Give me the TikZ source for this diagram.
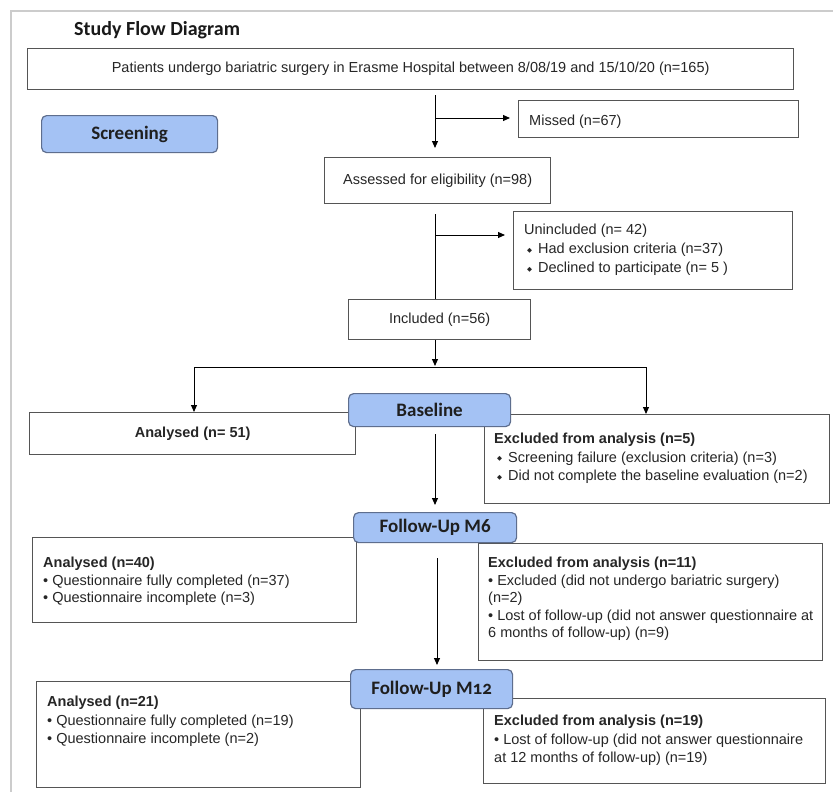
\documentclass[tikz,border=0pt]{standalone}
\usepackage{fontspec}
\setmainfont{Liberation Sans}
\newfontfamily\carl{Carlito}
\newfontfamily\carlold[Numbers=OldStyle]{Carlito}
\newfontfamily\dejavu{DejaVu Sans}
\usetikzlibrary{arrows.meta}
\definecolor{boxgray}{HTML}{555555}
\definecolor{stagefill}{HTML}{A4C2F4}
\definecolor{stageborder}{HTML}{5E6E8E}
\definecolor{framegray}{HTML}{CCCCCC}
\newcommand\dmd{\hspace{3pt}\makebox[11pt][l]{\raisebox{1.5pt}{\dejavu\fontsize{6.5}{6.5}\selectfont ◆}}}
\tikzset{
  box/.style={draw=boxgray, line width=1.3pt, fill=white, inner sep=0pt, anchor=north west,
    font=\fontsize{14.5}{18}\selectfont, text=black!85},
  stage/.style={draw=stageborder, fill=stagefill, rounded corners=5pt, line width=1.2pt,
    inner sep=0pt, anchor=north west, text=black!88,
    font=\carl\bfseries\fontsize{19}{21}\selectfont},
  txt/.style={align=left, anchor=base west, inner sep=0pt, text=black!85},
  arr/.style={-{Triangle[length=7pt,width=6pt]}, line width=1pt},
  ln/.style={line width=1pt},
}
\begin{document}
\begin{tikzpicture}[x=1pt,y=-1pt]
\useasboundingbox (0,0) rectangle (833,792);
\fill[white] (0,0) rectangle (833,792);
\draw[framegray, line width=2pt] (11,792) -- (11,11) -- (833,11);

\node[txt, font=\carl\bfseries\fontsize{20}{22}\selectfont, text=black!90] (title) at (74,36) {Study Flow Diagram};

% white boxes
\node[box, minimum width=766pt, minimum height=41pt] (top) at (27,48)
  {Patients undergo bariatric surgery in Erasme Hospital between 8/08/19 and 15/10/20 (n=165)};
\node[box, minimum width=280pt, minimum height=37pt] (missed) at (518,100) {};
\node[box, minimum width=226pt, minimum height=46pt] (assess) at (324,157) {Assessed for eligibility (n=98)};
\node[box, minimum width=279pt, minimum height=78pt] (unincl) at (513,211) {};
\node[box, minimum width=182pt, minimum height=40pt] (incl) at (348,299) {Included (n=56)};
\node[box, minimum width=326pt, minimum height=42pt, font=\bfseries\fontsize{14.5}{18}\selectfont] (an51) at (29,412) {Analysed (n= 51)};
\node[box, minimum width=345pt, minimum height=89pt] (ex5) at (484,414) {};
\node[box, minimum width=324pt, minimum height=85pt] (an40) at (32,537) {};
\node[box, minimum width=344pt, minimum height=117pt] (ex11) at (478,543) {};
\node[box, minimum width=324pt, minimum height=106pt] (an21) at (36,681) {};
\node[box, minimum width=342pt, minimum height=85pt] (ex19) at (483,698) {};

% texts in boxes (anchor = baseline of last line)
\node[txt, font=\fontsize{14.5}{19}\selectfont] (tmissed) at (529,125) {Missed (n=67)};
\node[txt, font=\fontsize{14.5}{19}\selectfont] (tunincl) at (524,272.5)
  {Unincluded (n= 42)\\\dmd Had exclusion criteria (n=37)\\\dmd Declined to participate (n= 5 )};
\node[txt, font=\fontsize{14.5}{18.5}\selectfont] (tex5) at (494,480.5)
  {\textbf{Excluded from analysis (n=5)}\\\dmd Screening failure (exclusion criteria) (n=3)\\\dmd Did not complete the baseline evaluation (n=2)};
\node[txt, font=\fontsize{14.5}{17.5}\selectfont] (tan40) at (43,602.5)
  {\textbf{Analysed (n=40)}\\• Questionnaire fully completed (n=37)\\• Questionnaire incomplete (n=3)};
\node[txt, font=\fontsize{14.5}{17.5}\selectfont] (tex11) at (488,637.5)
  {\textbf{Excluded from analysis (n=11)}\\• Excluded (did not undergo bariatric surgery)\\(n=2)\\• Lost of follow-up (did not answer questionnaire at\\6 months of follow-up) (n=9)};
\node[txt, font=\fontsize{14.5}{18.5}\selectfont] (tan21) at (47,743.5)
  {\textbf{Analysed (n=21)}\\• Questionnaire fully completed (n=19)\\• Questionnaire incomplete (n=2)};
\node[txt, font=\fontsize{14.5}{18.5}\selectfont] (tex19) at (494,762.5)
  {\textbf{Excluded from analysis (n=19)}\\• Lost of follow-up (did not answer questionnaire\\at 12 months of follow-up) (n=19)};

% connectors
\coordinate (j1) at (435,118);
\coordinate (j2) at (435,235);
\coordinate (j3) at (435,367);
\coordinate (jl) at (194,367);
\coordinate (jr) at (646,367);
\coordinate (j5) at (437,558);
\draw[arr, shorten <=5pt, shorten >=9pt] (top.south -| j1) -- (assess.north -| j1);
\draw[arr, shorten >=8pt] (j1) -- (j1 -| missed.west);
\draw[ln, shorten <=10pt] (assess.south -| j2) -- (incl.north -| j2);
\draw[arr, shorten >=8pt] (j2) -- (j2 -| unincl.west);
\draw[arr, shorten >=1pt] (incl.south -| j3) -- (j3);
\draw[ln] (jl) -- (jr);
\draw[arr] (jl) -- (jl |- an51.north);
\draw[arr] (jr) -- (jr |- ex5.north);

% stage boxes
\node[stage, minimum width=176pt, minimum height=37pt] (screen) at (41,115) {Screening};
\node[stage, minimum width=162pt, minimum height=33pt] (base) at (348,393) {Baseline};
\node[stage, minimum width=163pt, minimum height=30pt] (m6) at (353,512) {Follow-Up M6};
\node[stage, minimum width=162pt, minimum height=39pt] (m12) at (350,669) {Follow-Up {\carlold\bfseries M12}};

\draw[arr, shorten <=7pt, shorten >=7pt] (base.south -| j3) -- (m6.north -| j3);
\draw[arr, shorten >=4pt] (j5) -- (j5 |- m12.north);
\end{tikzpicture}
\end{document}
